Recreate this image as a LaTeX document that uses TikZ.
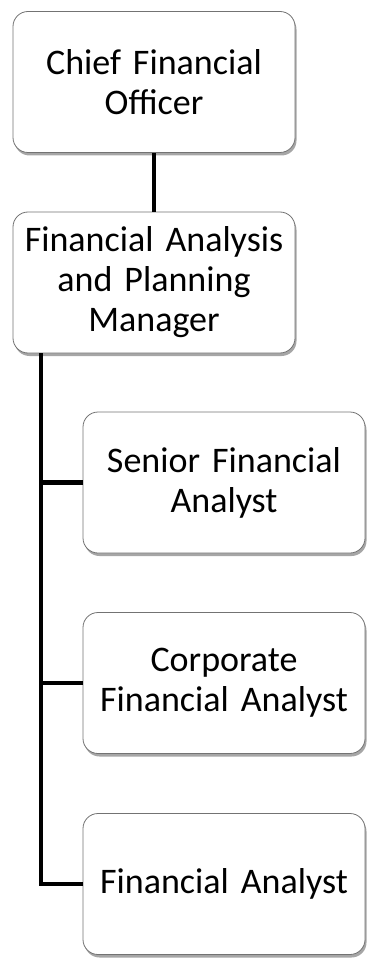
\documentclass[tikz,border=0pt]{standalone}
\usepackage{fontspec}
\setmainfont{Carlito}
\usetikzlibrary{shadows}
\begin{document}
\begin{tikzpicture}[x=1pt,y=-1pt,
  orgbox/.style={draw=black!55, line width=0.8pt, fill=white, rounded corners=15pt,
    minimum width=282pt, minimum height=141pt, text width=280pt, align=center,
    inner sep=0pt, font=\fontsize{36}{40}\selectfont,
    drop shadow={shadow xshift=1.5pt, shadow yshift=-3pt, opacity=0.35, fill=black}},
  link/.style={line width=4.5pt, black}]
\useasboundingbox (0,0) rectangle (374,965);
\node[orgbox] (cfo) at (154,82) {Chief Financial\\Officer};
\node[orgbox] (fapm) at (154,282.5) {Financial Analysis\\and Planning\\Manager};
\node[orgbox] (sfa) at (224,482.5) {Senior Financial\\Analyst};
\node[orgbox] (cfa) at (224,683) {Corporate\\Financial Analyst};
\node[orgbox] (fa) at (224,884) {Financial Analyst};
\coordinate (tx) at (41,0);
\draw[link] (cfo) -- (fapm);
\draw[link] (tx |- fapm.south) |- (fa.west);
\draw[link] (tx |- sfa.west) -- (sfa.west);
\draw[link] (tx |- cfa.west) -- (cfa.west);
\end{tikzpicture}
\end{document}
